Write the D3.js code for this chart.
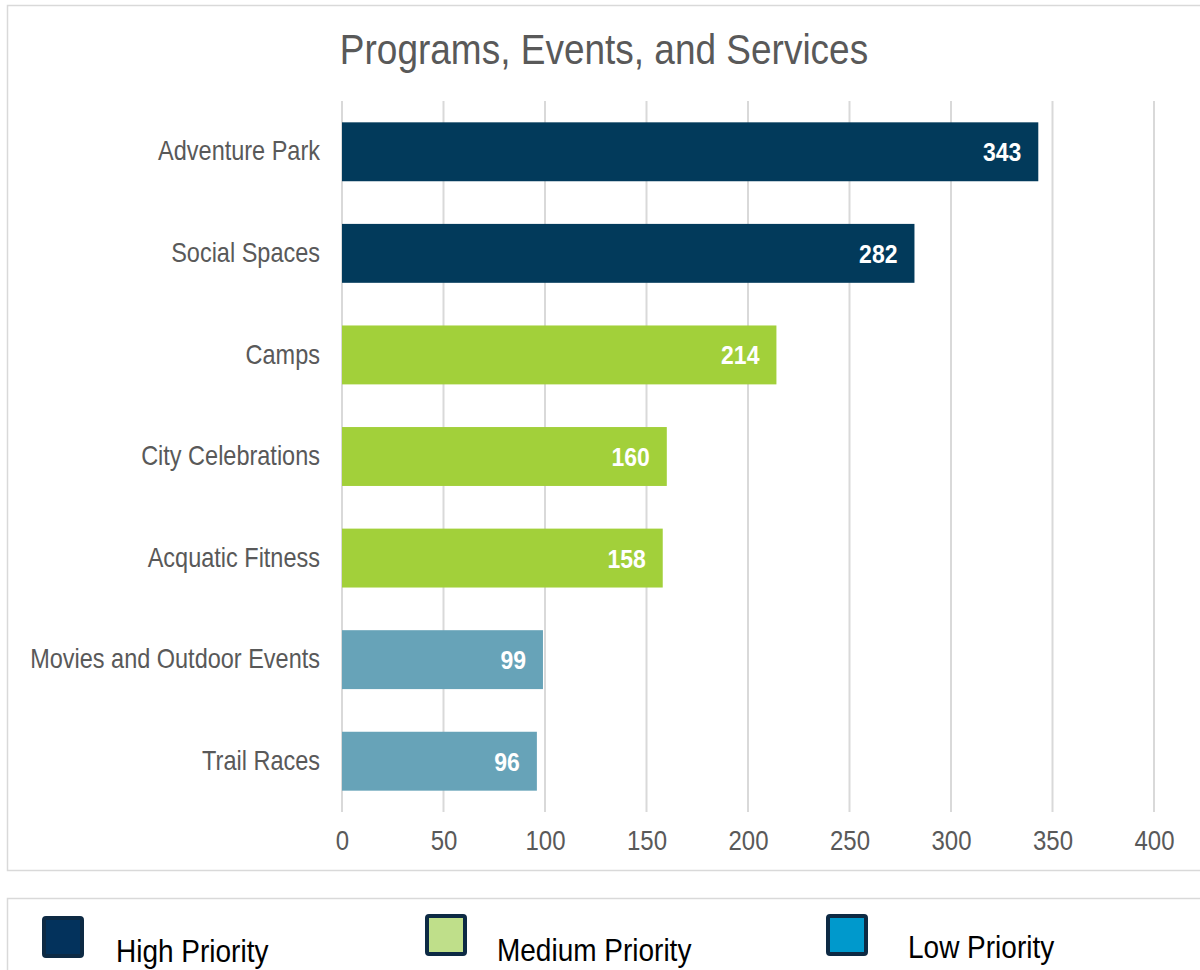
<!DOCTYPE html>
<html>
<head>
<meta charset="utf-8">
<script src="https://cdn.jsdelivr.net/npm/d3@7"></script>
<style>
  body { margin: 0; background: #fff; }
  svg { display: block; font-family: "Liberation Sans", Arial, sans-serif; }
</style>
</head>
<body>
<div id="chart"></div>
<script>
// data
var categories = ["Adventure Park", "Social Spaces", "Camps", "City Celebrations",
    "Acquatic Fitness", "Movies and Outdoor Events", "Trail Races"];
var values = [343, 282, 214, 160, 158, 99, 96];
var priorities = ["High", "High", "Medium", "Medium", "Medium", "Low", "Low"];
var xTicks = [0, 50, 100, 150, 200, 250, 300, 350, 400];
var legendLabels = ["High Priority", "Medium Priority", "Low Priority"];

var width = 1200, height = 970;
var stretch = 1.15; // text in the picture is a bit taller than wide

var barColor = { High: "#023a5b", Medium: "#a2d03a", Low: "#67a3b8" };
var legendFill = ["#03325c", "#bfdf8a", "#0099cc"];

var svg = d3.select("#chart").append("svg")
    .attr("width", width)
    .attr("height", height);

function place(x, y) {
    return "translate(" + x + "," + y + ") scale(1," + stretch + ")";
}

// chart frame
svg.append("rect")
    .attr("x", 7.5).attr("y", 5.5)
    .attr("width", 1200).attr("height", 865)
    .attr("fill", "#fff").attr("stroke", "#d9d9d9").attr("stroke-width", 1.5);

// title
svg.append("text")
    .attr("transform", place(604, 64))
    .attr("text-anchor", "middle")
    .attr("font-size", 37)
    .attr("fill", "#595959")
    .text("Programs, Events, and Services");

var xScale = d3.scaleLinear().domain([0, 400]).range([342, 1154]);
var yScale = d3.scaleBand().domain(categories).range([101, 812]).paddingInner(0.42).paddingOuter(0.21);

// gridlines
svg.append("g").selectAll("line").data(xTicks).enter()
    .append("line")
    .attr("x1", function(d) { return xScale(d); })
    .attr("x2", function(d) { return xScale(d); })
    .attr("y1", 101).attr("y2", 812)
    .attr("stroke", "#d9d9d9").attr("stroke-width", 2);

// x axis
var xAxis = d3.axisBottom(xScale).tickValues(xTicks).tickSize(0).tickPadding(0);
var gx = svg.append("g")
    .attr("transform", "translate(0,850)")
    .call(xAxis);
gx.select(".domain").remove();
gx.selectAll("text")
    .attr("y", 0)
    .attr("dy", 0)
    .attr("transform", "scale(1," + stretch + ")")
    .attr("font-size", 24)
    .attr("fill", "#595959")
    .attr("font-family", "Liberation Sans, Arial, sans-serif");

// y axis labels
var yAxis = d3.axisLeft(yScale).tickSize(0).tickPadding(22);
var gy = svg.append("g")
    .attr("transform", "translate(342,0)")
    .call(yAxis);
gy.select(".domain").remove();
gy.selectAll(".tick").each(function() {
    var t = d3.select(this).attr("transform");
    d3.select(this).attr("transform", t + " scale(1," + stretch + ")");
});
gy.selectAll("text")
    .attr("font-size", 23.5)
    .attr("fill", "#595959")
    .attr("font-family", "Liberation Sans, Arial, sans-serif");

// bars
var rows = categories.map(function(c, i) {
    return { name: c, value: values[i], priority: priorities[i] };
});

svg.append("g").selectAll("rect").data(rows).enter()
    .append("rect")
    .attr("x", xScale(0))
    .attr("y", function(d) { return yScale(d.name); })
    .attr("width", function(d) { return xScale(d.value) - xScale(0); })
    .attr("height", yScale.bandwidth())
    .attr("fill", function(d) { return barColor[d.priority]; });

svg.append("g").selectAll("text").data(rows).enter()
    .append("text")
    .attr("transform", function(d) {
        return place(xScale(d.value) - 17, yScale(d.name) + yScale.bandwidth() / 2);
    })
    .attr("dy", "0.36em")
    .attr("text-anchor", "end")
    .attr("font-size", 23)
    .attr("font-weight", "bold")
    .attr("fill", "#fff")
    .text(function(d) { return d.value; });

// legend frame
svg.append("rect")
    .attr("x", 7.5).attr("y", 898.5)
    .attr("width", 1200).attr("height", 100)
    .attr("fill", "#fff").attr("stroke", "#d9d9d9").attr("stroke-width", 1.5);

var legendX = [44, 427, 828];
var legendY = [918, 916, 916];
var legendTextX = [116, 497, 908];
var legendTextY = [962, 961, 958];

var lg = svg.append("g").selectAll("g").data(legendLabels).enter().append("g");
lg.append("rect")
    .attr("x", function(d, i) { return legendX[i]; })
    .attr("y", function(d, i) { return legendY[i]; })
    .attr("width", 38).attr("height", 38)
    .attr("rx", 2)
    .attr("fill", function(d, i) { return legendFill[i]; })
    .attr("stroke", "#0d2a44").attr("stroke-width", 4);
lg.append("text")
    .attr("transform", function(d, i) { return place(legendTextX[i], legendTextY[i]); })
    .attr("font-size", 28)
    .attr("fill", "#000")
    .text(function(d) { return d; });
</script>
</body>
</html>
